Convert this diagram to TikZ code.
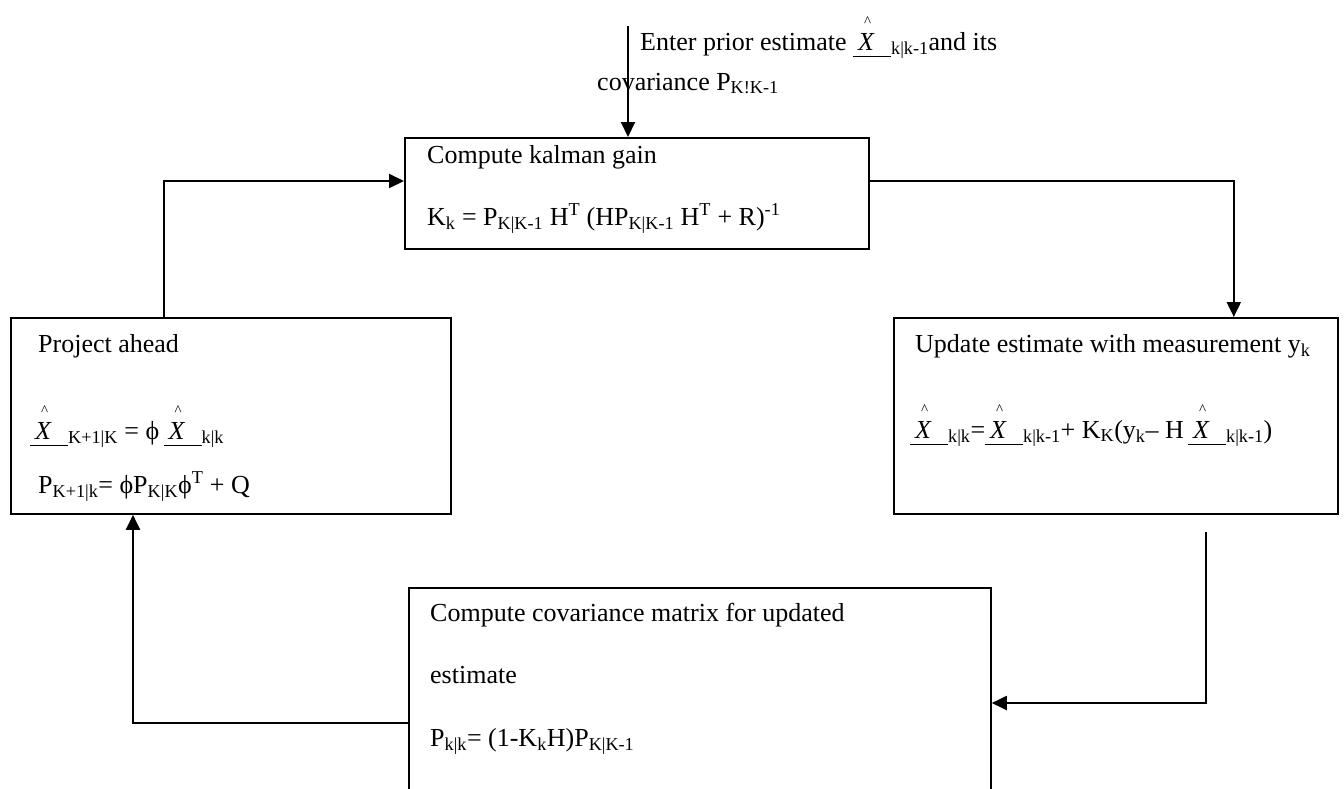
\documentclass[tikz,border=0pt]{standalone}
\usepackage{fontspec}
\setmainfont{Liberation Serif}
\usetikzlibrary{arrows.meta}

% X with a hat on top, underlined (as in the equation objects)
\newcommand{\xhat}{\makebox[38pt][l]{%
  \rlap{\rule[-7pt]{38pt}{1.2pt}}%
  \rlap{\hspace{11pt}\raisebox{24pt}{\fontsize{15}{15}\selectfont\textasciicircum}}%
  \hspace{5pt}\textit{X}}}
\newcommand{\sbs}[1]{\textsubscript{#1}}
\newcommand{\sps}[1]{\textsuperscript{#1}}

\tikzset{
  stepbox/.style={draw, line width=1.8pt, anchor=north west, inner sep=0pt},
  txt/.style={anchor=base west, inner sep=0pt, font=\fontsize{26}{30}\selectfont},
  arr/.style={line width=2pt, -{Triangle[length=15pt,width=14pt]}}
}

\begin{document}
\begin{tikzpicture}[x=1pt, y=-1pt]
	\useasboundingbox (0,0) rectangle (1344,788);
	% boxes
	\node[stepbox, minimum width=464pt, minimum height=111pt] (gain) at (404,137) {};
	\node[stepbox, minimum width=440pt, minimum height=196pt] (proj) at (10,317) {};
	\node[stepbox, minimum width=444pt, minimum height=196pt] (upd) at (893,317) {};
	\node[stepbox, minimum width=582pt, minimum height=230pt] (cov) at (408,587) {};
	% texts
	\node[txt] (entry1) at (640,50) {Enter prior estimate \xhat\sbs{k|k-1}and its};
	\node[txt] (entry2) at (597,90) {covariance P\sbs{K!K-1}};
	\coordinate (entrytop) at (628,26);
	\node[txt] (gaint) at (427,163) {Compute kalman gain};
	\node[txt] (gainf) at (427,225) {K\sbs{k} = P\sbs{K|K-1} H\sps{T} (HP\sbs{K|K-1} H\sps{T} + R)\sps{-1}};
	\node[txt] (projt) at (38,352) {Project ahead};
	\node[txt] (projx) at (30,439) {\xhat\sbs{K+1|K} = ϕ\,\xhat\sbs{k|k}};
	\node[txt] (projp) at (38,493) {P\sbs{K+1|k}= ϕP\sbs{K|K}ϕ\sps{T} + Q};
	\node[txt] (updt) at (915,352) {Update estimate with measurement y\sbs{k}};
	\node[txt] (updx) at (910,438) {\xhat\sbs{k|k}=\xhat\sbs{k|k-1}+ K\sbs{K}(y\sbs{k}– H\,\xhat\sbs{k|k-1})};
	\node[txt] (covt) at (430,621) {Compute covariance matrix for updated};
	\node[txt] (cove) at (430,683) {estimate};
	\node[txt] (covp) at (430,746) {P\sbs{k|k}= (1-K\sbs{k}H)P\sbs{K|K-1}};
	% connectors
	\draw[arr] (entrytop) -- (entrytop |- gain.north);
	\draw[arr] ([yshift=12.5pt]gain.east) -| ([xshift=-105pt]upd.north east);
	\draw[arr] ([xshift=-133pt,yshift=-17pt]upd.south east) |- ([yshift=-116pt]cov.north east);
	\draw[arr] ([yshift=-136pt]cov.north west) -| ([xshift=123pt]proj.south west);
	\draw[arr] ([xshift=154pt]proj.north west) |- ([yshift=-44pt]gain.north west);
\end{tikzpicture}
\end{document}
